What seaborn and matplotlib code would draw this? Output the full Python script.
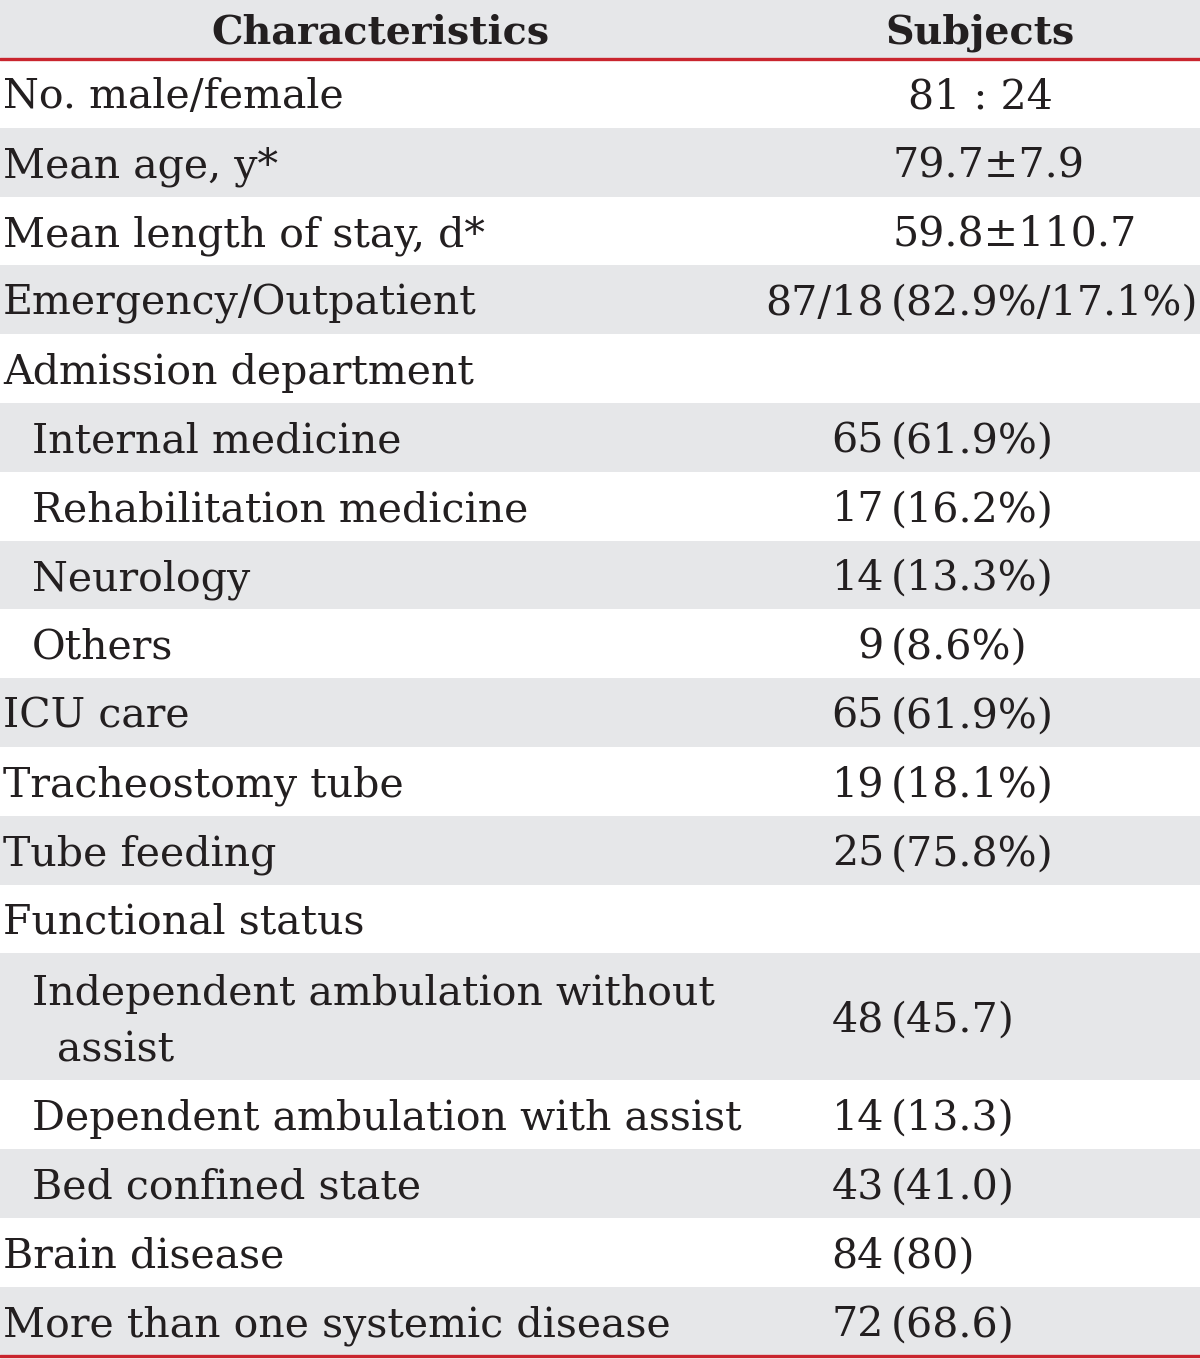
import matplotlib
matplotlib.use("Agg")
import matplotlib.pyplot as plt
import seaborn as sns

# ---- data ----
header = ["Characteristics", "Subjects"]
labels = [
    "No. male/female", "Mean age, y*", "Mean length of stay, d*", "Emergency/Outpatient",
    "Admission department", "Internal medicine", "Rehabilitation medicine", "Neurology",
    "Others", "ICU care", "Tracheostomy tube", "Tube feeding", "Functional status",
    "Independent ambulation without\nassist", "Dependent ambulation with assist",
    "Bed confined state", "Brain disease", "More than one systemic disease",
]
indent = [0, 0, 0, 0, 0, 1, 1, 1, 1, 0, 0, 0, 0, 1, 1, 1, 0, 0]
counts = ["81 : 24", "79.7±7.9", "59.8±110.7", "87/18", "", "65", "17", "14", "9",
          "65", "19", "25", "", "48", "14", "43", "84", "72"]
shares = ["", "", "", "(82.9%/17.1%)", "", "(61.9%)", "(16.2%)", "(13.3%)", "(8.6%)",
          "(61.9%)", "(18.1%)", "(75.8%)", "", "(45.7)", "(13.3)", "(41.0)", "(80)", "(68.6)"]
value_mode = ["center", "left", "left"] + ["split"] * 15

# ---- style ----
sns.set_theme(style="white")
plt.rcParams["font.family"] = ["DejaVu Serif"]

W, H = 1200, 1359
fig = plt.figure(figsize=(W / 100, H / 100), dpi=100)
ax = fig.add_axes([0, 0, 1, 1])
ax.set_xlim(0, W)
ax.set_ylim(H, 0)
ax.axis("off")

GRAY = "#E6E7E9"
RED = "#C9252E"
TXT = "#231F20"
FS = 29.6
FSH = 28.5
HEADER_H = 59
ROW_H = 68.8
DOUBLE_H = 127

# header
ax.axhspan(0, HEADER_H, color=GRAY, lw=0)
ax.text(380, HEADER_H / 2 + 14, header[0], ha="center", va="baseline",
        fontsize=FSH, fontweight="bold", color=TXT)
ax.text(980, HEADER_H / 2 + 14, header[1], ha="center", va="baseline",
        fontsize=FSH, fontweight="bold", color=TXT)

y = HEADER_H
for i, lab in enumerate(labels):
    nlines = lab.count("\n") + 1
    h = ROW_H if nlines == 1 else DOUBLE_H
    if i % 2 == 1:
        ax.axhspan(y, y + h, color=GRAY, lw=0)
    cy = y + h / 2
    x0 = 3 if indent[i] == 0 else 32
    if nlines == 1:
        ax.text(x0, cy + 15, lab, ha="left", va="baseline", fontsize=FS, color=TXT)
    else:
        l1, l2 = lab.split("\n")
        ax.text(x0, cy - 12, l1, ha="left", va="baseline", fontsize=FS, color=TXT)
        ax.text(x0 + 25, cy + 45, l2, ha="left", va="baseline", fontsize=FS, color=TXT)
    mode = value_mode[i]
    if counts[i]:
        if mode == "center":
            ax.text(980, cy + 15, counts[i], ha="center", va="baseline", fontsize=FS, color=TXT)
        elif mode == "left":
            ax.text(893, cy + 15, counts[i], ha="left", va="baseline", fontsize=FS, color=TXT)
        else:
            ax.text(884, cy + 15, counts[i], ha="right", va="baseline", fontsize=FS, color=TXT)
            ax.text(891, cy + 15, shares[i], ha="left", va="baseline", fontsize=FS, color=TXT)
    y += h

ax.axhline(HEADER_H, color=RED, lw=2.4)
ax.axhline(y, color=RED, lw=2.4)

fig.savefig("out.png", dpi=100)
